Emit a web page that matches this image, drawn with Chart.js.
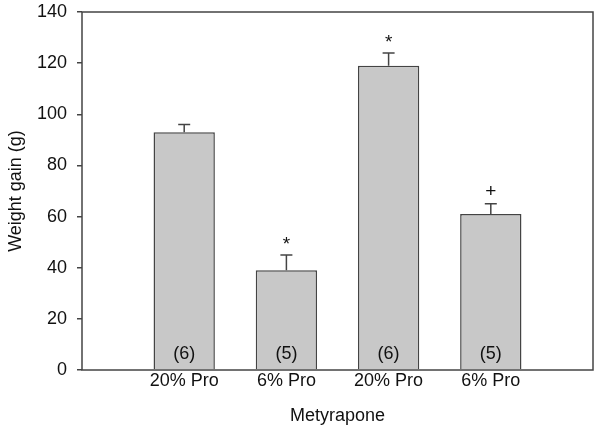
<!DOCTYPE html>
<html>
<head>
<meta charset="utf-8">
<script src="https://cdn.jsdelivr.net/npm/chart.js@4.4.1/dist/chart.umd.min.js"></script>
<style>
  html, body { margin: 0; padding: 0; background: #fff; }
  #wrap { width: 600px; height: 432px; }
</style>
</head>
<body>
<div id="wrap"><canvas id="weightChart" width="600" height="432"></canvas></div>
<script>
// empty slots at both ends so the bars sit at positions 1..4
const categories = ["", "20% Pro", "6% Pro", "20% Pro", "6% Pro", ""];
const weightGain = [null, 93, 39, 119, 61, null];
const errorUp = [null, 3, 6, 5, 4, null];
const marks = ["", "", "*", "*", "+", ""];
const counts = ["", "(6)", "(5)", "(6)", "(5)", ""];
const yTicks = [0, 20, 40, 60, 80, 100, 120, 140];

const FONT = "'Liberation Sans', Arial, Helvetica, sans-serif";
const INK = "#111";
const LINE = "#444";

const annotate = {
  id: "annotate",
  afterDatasetsDraw(chart) {
    const ctx = chart.ctx;
    const x = chart.scales.x;
    const y = chart.scales.y;
    const area = chart.chartArea;
    ctx.save();

    // error bars (upper only)
    ctx.strokeStyle = LINE;
    ctx.lineWidth = 1.5;
    weightGain.forEach((v, i) => {
      if (v == null) return;
      const px = x.getPixelForValue(i);
      const top = y.getPixelForValue(v);
      const cap = y.getPixelForValue(v + errorUp[i]);
      ctx.beginPath();
      ctx.moveTo(px, top);
      ctx.lineTo(px, cap);
      ctx.moveTo(px - 6, cap);
      ctx.lineTo(px + 6, cap);
      ctx.stroke();
    });

    // significance marks above error caps
    ctx.fillStyle = INK;
    ctx.font = "19px " + FONT;
    ctx.textAlign = "center";
    ctx.textBaseline = "alphabetic";
    marks.forEach((m, i) => {
      if (!m) return;
      const px = x.getPixelForValue(i);
      const cap = y.getPixelForValue(weightGain[i] + errorUp[i]);
      const tm = ctx.measureText(m);
      const a = tm.actualBoundingBoxAscent, d = tm.actualBoundingBoxDescent;
      const centre = cap - 14;
      ctx.fillText(m, px, centre + (a - d) / 2);
    });

    // group sizes inside the bars
    ctx.font = "18px " + FONT;
    counts.forEach((c, i) => {
      if (!c) return;
      const px = x.getPixelForValue(i);
      ctx.fillText(c, px, y.getPixelForValue(0) - 11);
    });

    // frame round the plot
    ctx.strokeStyle = LINE;
    ctx.lineWidth = 1.5;
    ctx.strokeRect(area.left, area.top, area.right - area.left, area.bottom - area.top);
    ctx.restore();
  }
};

new Chart(document.getElementById("weightChart"), {
  type: "bar",
  data: {
    labels: categories,
    datasets: [{
      data: weightGain,
      backgroundColor: "#c8c8c8",
      borderColor: LINE,
      borderWidth: 1.5,
      borderSkipped: "start",
      categoryPercentage: 1,
      barPercentage: 0.6,
    }],
  },
  options: {
    responsive: false,
    animation: false,
    layout: { padding: { top: 12, right: 7, left: 0, bottom: 0 } },
    plugins: { legend: { display: false }, tooltip: { enabled: false } },
    scales: {
      x: {
        offset: false,
        grid: { display: false, drawTicks: false },
        border: { display: false },
        ticks: { color: INK, font: { family: FONT, size: 18 }, padding: 0, maxRotation: 0, autoSkip: false },
        title: { display: true, text: "Metyrapone", color: INK, font: { family: FONT, size: 18 }, padding: { top: 0, bottom: 5 } },
        afterFit(s) { s.height = 62; s.paddingLeft = 0; s.paddingRight = 0; },
      },
      y: {
        min: 0,
        max: 140,
        afterBuildTicks(s) { s.ticks = yTicks.map(v => ({ value: v })); },
        grid: { drawOnChartArea: false, drawTicks: true, tickLength: 5, color: LINE, lineWidth: 1.5 },
        border: { display: false },
        ticks: { color: INK, font: { family: FONT, size: 18 }, padding: 10 },
        title: { display: true, text: "Weight gain (g)", color: INK, font: { family: FONT, size: 18 }, padding: { top: 5, bottom: 0 } },
        afterFit(s) { s.width = 82; s.paddingTop = 0; s.paddingBottom = 0; },
      },
    },
  },
  plugins: [annotate],
});
</script>
</body>
</html>
